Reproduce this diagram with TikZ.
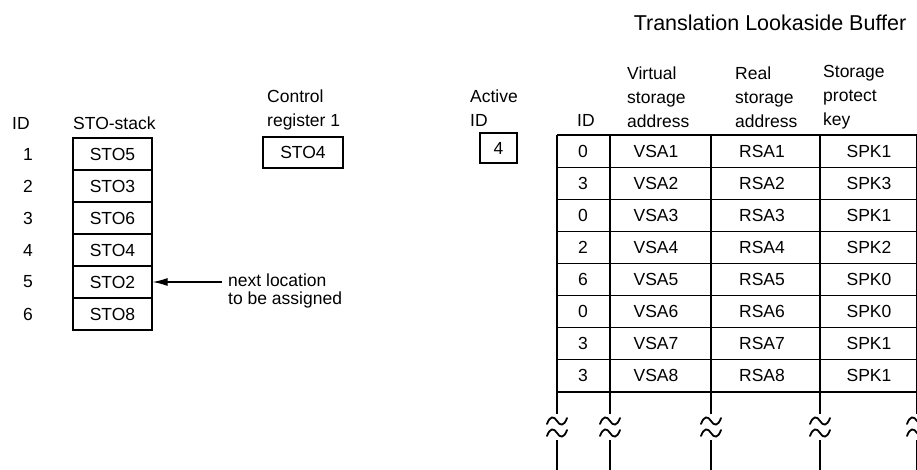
\documentclass[tikz,border=0pt]{standalone}
\usepackage{fontspec}
\setmainfont{Liberation Sans}
\usetikzlibrary{arrows.meta}
\begin{document}
\begin{tikzpicture}[x=1pt,y=-1pt,
  every node/.style={font=\fontsize{17.5}{18}\selectfont, inner sep=0pt},
  hdr/.style={align=left, anchor=west, font=\fontsize{17.5}{24}\selectfont},
  cellbox/.style={draw, line width=1.2pt, minimum width=79pt, minimum height=32pt},
  gridline/.style={line width=1.2pt},
  brk/.pic={\draw[line width=1.8pt, line cap=round] (-10,3) .. controls (-7,-5.5) and (-3,-5) .. (0,0) .. controls (3,5) and (7,5.5) .. (10,-3);}
  ]
\useasboundingbox (0,0) rectangle (917,470);

% title
\node (title) at (770,23) {\fontsize{21.5}{24}\selectfont Translation Lookaside Buffer};

% left: STO stack
\node[anchor=west] (idh) at (12,123) {ID};
\node[anchor=west] (stoh) at (73,123) {STO-stack};
\foreach \i/\t in {1/STO5,2/STO3,3/STO6,4/STO4,5/STO2,6/STO8}{
  \node[cellbox] (sto\i) at (112.5,{154+32*(\i-1)}) {\t};
  \node (id\i) at (28,{154+32*(\i-1)}) {\i};
}
\coordinate (nextpt) at (222,282);
\node[align=left, anchor=west, font=\fontsize{17.5}{18}\selectfont] (nextlbl) at (228,291) {next location\\to be assigned};
\draw[line width=1.2pt, -{Latex[length=15pt,width=8pt]}] (nextpt) -- (sto5.east);

% control register
\node[hdr] (crh) at (267,110) {Control\\register 1};
\node[draw, line width=1.2pt, minimum width=80pt, minimum height=31pt] (cr) at (303,152.5) {STO4};

% active ID
\node[hdr] (acth) at (470,108.5) {Active\\ID};
\node[draw, line width=1.2pt, minimum width=37pt, minimum height=30pt] (act) at (498.5,148) {4};

% TLB headers
\node[anchor=west] (tidh) at (577,120) {ID};
\node[hdr] (vsah) at (627,97) {Virtual\\storage\\address};
\node[hdr] (rsah) at (735,97) {Real\\storage\\address};
\node[hdr] (spkh) at (823,97) {Storage\\protect\\key};

% TLB grid
\foreach \r in {0,...,8}{
  \draw[gridline] (557,{135+32.125*\r}) -- (917,{135+32.125*\r});
}
\foreach \x in {557,610,711,820,917}{
  \draw[gridline] (\x,135) -- (\x,414);
  \draw[gridline] (\x,440) -- (\x,470);
  \pic at (\x,421) {brk};
  \pic at (\x,433) {brk};
}

% TLB cells
\foreach \r/\id/\k in {1/0/1,2/3/3,3/0/1,4/2/2,5/6/0,6/0/0,7/3/1,8/3/1}{
  \node (tid\r) at (583,{135+32.125*(\r-0.5)}) {\id};
  \node (vsa\r) at (656,{135+32.125*(\r-0.5)}) {VSA\r};
  \node (rsa\r) at (762,{135+32.125*(\r-0.5)}) {RSA\r};
  \node (spk\r) at (869,{135+32.125*(\r-0.5)}) {SPK\k};
}
\end{tikzpicture}
\end{document}
